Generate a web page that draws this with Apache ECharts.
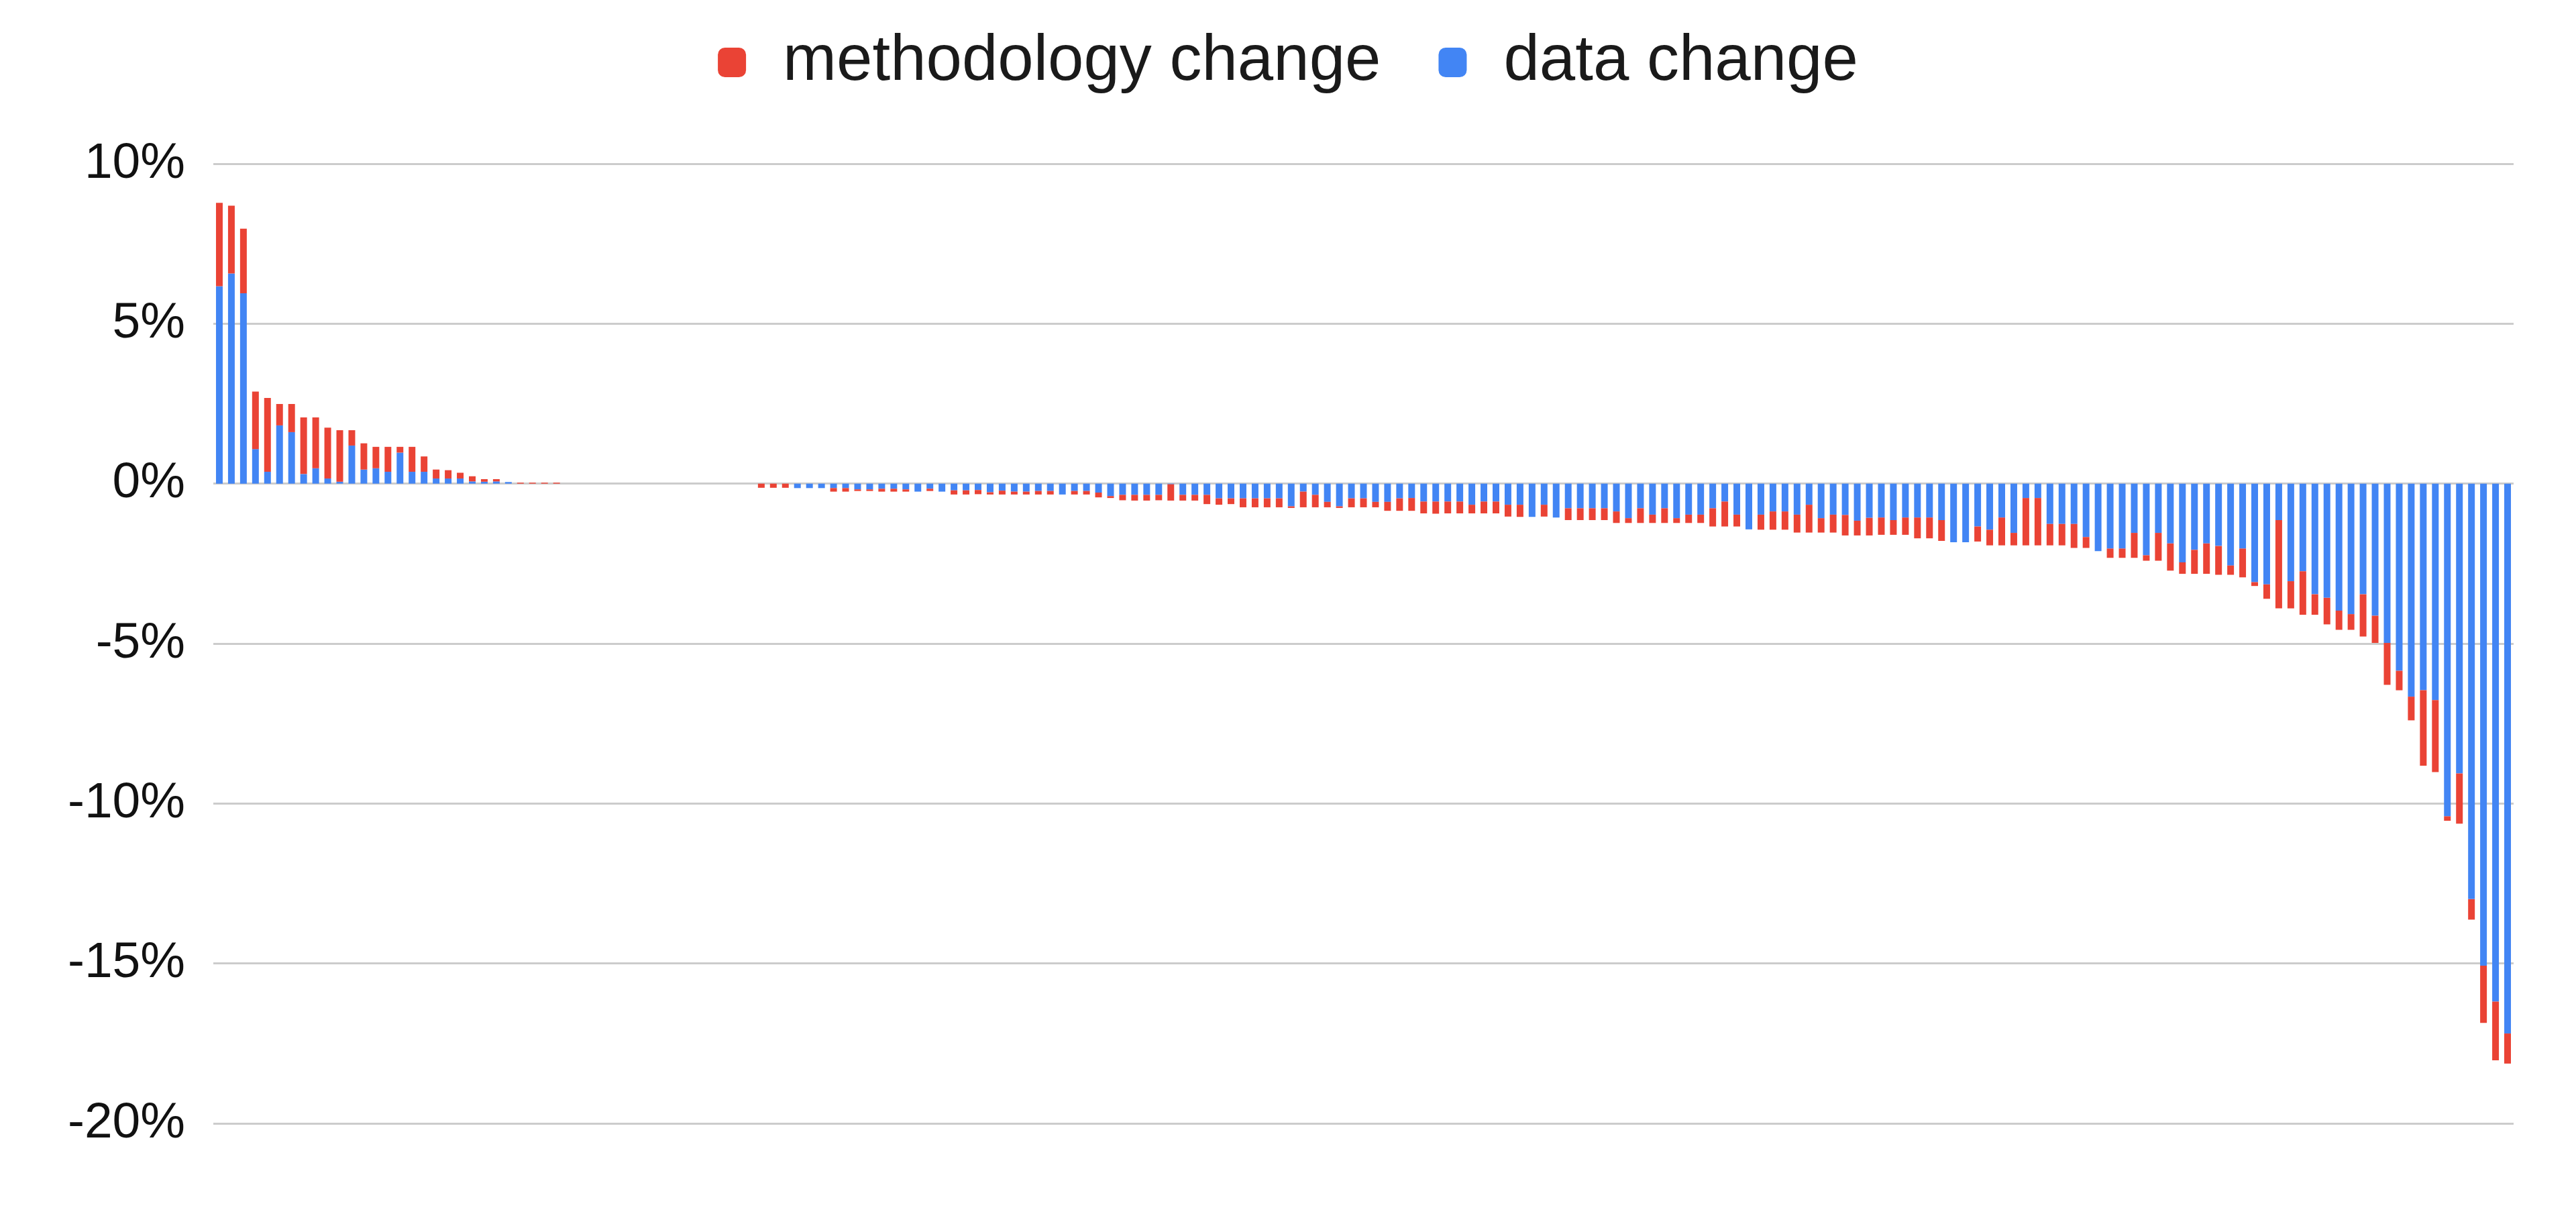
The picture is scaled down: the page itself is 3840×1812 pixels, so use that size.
<!DOCTYPE html>
<html>
<head>
<meta charset="utf-8">
<script src="https://cdn.jsdelivr.net/npm/echarts@6/dist/echarts.min.js"></script>
<style>
html,body{margin:0;padding:0;background:#fff;}
#chart{width:3840px;height:1812px;}
</style>
</head>
<body>
<div id="chart"></div>
<script>
// data change (blue), percent
const dataChange = [
  6.17, 6.57, 5.95, 1.08, 0.37, 1.82, 1.61, 0.30, 0.48, 0.16,
  0.06, 1.19, 0.44, 0.48, 0.37, 0.97, 0.37, 0.37, 0.16, 0.16,
  0.16, 0.07, 0.06, 0.07, 0.05, 0, 0, 0, 0, 0,
  0, 0, 0, 0, 0, 0, 0, 0, 0, 0,
  0, 0, 0, 0, 0, 0, 0, 0, -0.14, -0.14,
  -0.14, -0.14, -0.14, -0.18, -0.18, -0.16, -0.16, -0.18, -0.25, -0.16,
  -0.25, -0.21, -0.21, -0.20, -0.27, -0.22, -0.25, -0.25, -0.23, -0.23,
  -0.34, -0.23, -0.23, -0.28, -0.39, -0.35, -0.35, -0.35, -0.35, -0.02,
  -0.35, -0.35, -0.35, -0.46, -0.46, -0.46, -0.46, -0.46, -0.46, -0.71,
  -0.25, -0.35, -0.57, -0.71, -0.46, -0.46, -0.57, -0.57, -0.46, -0.45,
  -0.56, -0.56, -0.56, -0.56, -0.66, -0.56, -0.56, -0.66, -0.66, -1.04,
  -0.66, -1.06, -0.77, -0.77, -0.77, -0.77, -0.87, -1.08, -0.77, -0.97,
  -0.77, -1.08, -0.97, -0.97, -0.77, -0.56, -0.97, -1.43, -0.97, -0.87,
  -0.87, -0.97, -0.66, -1.08, -0.97, -0.98, -1.16, -1.07, -1.06, -1.14,
  -1.06, -1.06, -1.06, -1.14, -1.83, -1.83, -1.34, -1.44, -1.06, -1.54,
  -0.45, -0.45, -1.26, -1.26, -1.26, -1.67, -2.11, -2.03, -2.03, -1.54,
  -2.24, -1.54, -1.87, -2.46, -2.07, -1.87, -1.95, -2.56, -2.03, -3.08,
  -3.15, -1.14, -3.05, -2.74, -3.46, -3.57, -3.97, -4.08, -3.46, -4.13,
  -4.98, -5.85, -6.66, -6.46, -6.77, -10.40, -9.06, -12.99, -15.07, -16.19,
  -17.19
];
// methodology change (red), percent
const methodologyChange = [
  2.61, 2.12, 2.02, 1.80, 2.31, 0.67, 0.88, 1.77, 1.59, 1.59,
  1.61, 0.48, 0.82, 0.67, 0.78, 0.18, 0.78, 0.48, 0.28, 0.26,
  0.18, 0.16, 0.08, 0.07, 0, 0.03, 0.03, 0.03, 0.03, 0,
  0, 0, 0, 0, 0, 0, 0, 0, 0, 0,
  0, 0, 0, 0, 0, -0.13, -0.13, -0.13, 0, 0,
  0, -0.11, -0.11, -0.05, -0.05, -0.09, -0.09, -0.07, 0, -0.07,
  0, -0.13, -0.13, -0.13, -0.07, -0.12, -0.09, -0.09, -0.11, -0.11,
  0, -0.11, -0.11, -0.15, -0.06, -0.17, -0.18, -0.18, -0.17, -0.51,
  -0.18, -0.18, -0.29, -0.20, -0.18, -0.28, -0.28, -0.28, -0.28, -0.05,
  -0.49, -0.39, -0.17, -0.05, -0.28, -0.28, -0.17, -0.28, -0.39, -0.40,
  -0.37, -0.38, -0.37, -0.37, -0.27, -0.37, -0.37, -0.37, -0.38, 0,
  -0.37, 0, -0.37, -0.37, -0.37, -0.37, -0.36, -0.15, -0.46, -0.26,
  -0.46, -0.15, -0.26, -0.26, -0.57, -0.78, -0.37, 0, -0.47, -0.57,
  -0.57, -0.56, -0.87, -0.45, -0.56, -0.64, -0.46, -0.55, -0.54, -0.46,
  -0.54, -0.65, -0.65, -0.65, 0, 0, -0.47, -0.49, -0.87, -0.39,
  -1.48, -1.48, -0.67, -0.67, -0.75, -0.34, 0, -0.29, -0.29, -0.78,
  -0.17, -0.87, -0.85, -0.36, -0.75, -0.95, -0.90, -0.29, -0.90, -0.12,
  -0.45, -2.76, -0.85, -1.36, -0.64, -0.83, -0.60, -0.49, -1.32, -0.85,
  -1.31, -0.61, -0.74, -2.36, -2.25, -0.14, -1.57, -0.64, -1.79, -1.84,
  -0.94
];
const categories = dataChange.map((_, i) => String(i + 1));
const seriesNames = ['methodology change', 'data change'];
const yTicks = { min: -20, max: 10, interval: 5 };

const FONT = '"Liberation Sans", Arial, Helvetica, sans-serif';
const chart = echarts.init(document.getElementById('chart'));
chart.setOption({
  backgroundColor: '#ffffff',
  animation: false,
  legend: {
    data: seriesNames,
    left: 'center',
    top: 40,
    itemWidth: 42,
    itemHeight: 44,
    itemGap: 86,
    icon: 'roundRect',
    textStyle: { fontFamily: FONT, fontSize: 96, color: '#1a1a1a', padding: [0, 0, 0, 50] }
  },
  grid: { left: 318, right: 93, top: 244, height: 1430, containLabel: false },
  xAxis: {
    type: 'category',
    data: categories,
    boundaryGap: true,
    axisLine: { show: false },
    axisTick: { show: false },
    axisLabel: { show: false },
    splitLine: { show: false }
  },
  yAxis: {
    type: 'value',
    min: yTicks.min,
    max: yTicks.max,
    interval: yTicks.interval,
    axisLine: { show: false },
    axisTick: { show: false },
    axisLabel: {
      formatter: '{value}%',
      fontFamily: FONT,
      fontSize: 75,
      color: '#111111',
      margin: 42,
      padding: [10, 0, 0, 0]
    },
    splitLine: { lineStyle: { color: '#cccccc', width: 3 } }
  },
  series: [
    {
      name: 'data change',
      type: 'bar',
      stack: 'total',
      barWidth: 10,
      itemStyle: { color: '#4285F4' },
      data: dataChange
    },
    {
      name: 'methodology change',
      type: 'bar',
      stack: 'total',
      barWidth: 10,
      itemStyle: { color: '#EA4335' },
      data: methodologyChange
    }
  ]
});
</script>
</body>
</html>
